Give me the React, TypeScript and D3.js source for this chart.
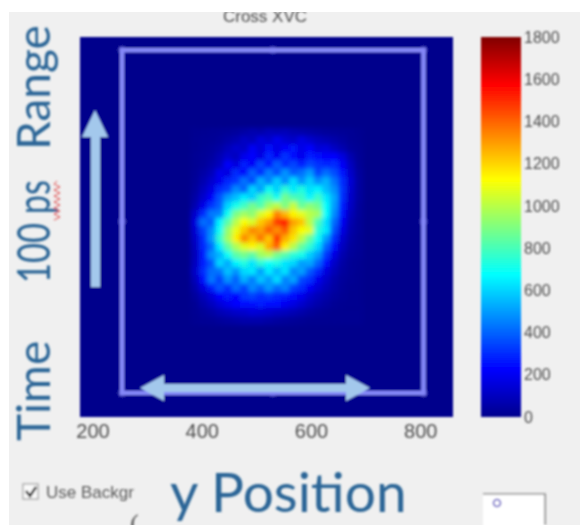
import React, { useEffect, useRef } from 'react';
import * as d3 from 'd3';

// tick labels
const xTicks = [200, 400, 600, 800];
const colorTicks = [0, 200, 400, 600, 800, 1000, 1200, 1400, 1600, 1800];

// axis extents of the image, in detector units
const xDomain = [177, 860];
const yDomain = [170, 865];
const colorDomain = [0, 1800];

// region of interest drawn over the image
const roiX = [254, 806];
const roiY = [194, 821];

// blob counts, bins of 15 units starting at (380, 336)
const binSize = 15;
const binX0 = 380;
const binY0 = 336;
const counts = [
  [10, 12, 15, 20, 25, 35, 50, 70, 60, 90, 80, 90, 70, 60, 50, 40, 30, 25, 20, 15, 10],
  [12, 15, 20, 30, 50, 70, 110, 90, 160, 130, 190, 140, 120, 170, 130, 100, 80, 60, 40, 20, 12],
  [12, 20, 30, 50, 90, 130, 110, 210, 150, 240, 170, 220, 260, 180, 230, 150, 160, 110, 70, 30, 15],
  [15, 25, 40, 80, 130, 100, 190, 230, 170, 290, 200, 310, 240, 190, 280, 250, 220, 230, 160, 70, 20],
  [15, 30, 60, 100, 220, 160, 280, 210, 350, 250, 390, 290, 350, 270, 350, 310, 290, 300, 210, 100, 25],
  [20, 50, 90, 190, 160, 300, 220, 400, 290, 450, 350, 490, 380, 420, 500, 340, 420, 360, 260, 120, 35],
  [25, 70, 130, 190, 290, 320, 430, 340, 540, 440, 590, 460, 620, 480, 590, 470, 540, 430, 300, 140, 40],
  [35, 100, 170, 300, 330, 470, 390, 610, 500, 700, 590, 750, 640, 730, 620, 660, 560, 480, 310, 130, 40],
  [50, 130, 220, 370, 500, 560, 650, 590, 760, 810, 700, 880, 800, 780, 660, 780, 640, 520, 300, 120, 40],
  [70, 180, 320, 390, 600, 710, 780, 880, 810, 950, 1010, 890, 1030, 850, 920, 870, 680, 500, 280, 110, 30],
  [130, 300, 440, 450, 700, 890, 960, 920, 1060, 1140, 1350, 1250, 1140, 1080, 1000, 960, 680, 470, 240, 90, 30],
  [160, 420, 380, 660, 830, 1000, 1120, 1060, 1220, 1300, 1480, 1560, 1290, 1230, 1000, 800, 620, 410, 200, 70, 25],
  [140, 340, 470, 690, 940, 1090, 1220, 1340, 1290, 1420, 1320, 1420, 1220, 1120, 1080, 740, 640, 360, 170, 60, 25],
  [120, 300, 490, 760, 960, 1150, 1340, 1230, 1380, 1220, 1500, 1270, 1170, 1010, 850, 690, 500, 300, 130, 50, 20],
  [100, 290, 410, 650, 840, 980, 1070, 1140, 1060, 1270, 1410, 1150, 1000, 850, 750, 610, 400, 240, 100, 40, 20],
  [90, 270, 480, 540, 690, 830, 880, 830, 950, 990, 880, 820, 740, 710, 590, 500, 320, 170, 70, 30, 15],
  [100, 280, 370, 610, 520, 660, 730, 630, 750, 680, 720, 630, 610, 500, 520, 400, 240, 120, 50, 20, 12],
  [120, 300, 420, 430, 570, 480, 610, 640, 500, 650, 540, 630, 460, 510, 380, 290, 160, 90, 40, 20, 10],
  [90, 250, 440, 330, 490, 390, 540, 440, 580, 490, 620, 450, 520, 350, 310, 190, 120, 60, 30, 15, 10],
  [60, 160, 280, 380, 300, 420, 340, 470, 400, 500, 410, 460, 340, 300, 210, 140, 90, 50, 25, 12, 10],
  [35, 90, 150, 230, 270, 230, 320, 340, 300, 320, 290, 280, 240, 190, 130, 90, 60, 35, 20, 10, 10],
  [15, 60, 100, 150, 190, 230, 250, 240, 270, 250, 240, 200, 170, 130, 90, 60, 40, 20, 12, 10, 10],
  [12, 30, 50, 80, 100, 120, 130, 150, 140, 130, 110, 100, 80, 60, 40, 25, 15, 10, 10, 10, 10],
  [10, 15, 20, 30, 40, 50, 60, 60, 60, 50, 40, 30, 25, 15, 10, 10, 10, 10, 10, 10, 10],
];

// matlab jet
const jetStops = [0, 225, 675, 1125, 1575, 1800];
const jetColors = ['#00008c', '#0000ff', '#00ffff', '#ffff00', '#ff0000', '#800000'];

const plot = { left: 80, right: 453, top: 37, bottom: 417 };
const bar = { left: 481, right: 521 };

const x = d3.scaleLinear().domain(xDomain).range([plot.left, plot.right]);
const y = d3.scaleLinear().domain(yDomain).range([plot.top, plot.bottom]);
const c = d3.scaleLinear().domain(colorDomain).range([plot.bottom, plot.top]);
const jet = d3.scaleLinear<string>().domain(jetStops).range(jetColors);

const blueText = '#2a6596';
const calibri = 'Lato, "Open Sans", sans-serif';
const guiFont = '"Liberation Sans", Arial, sans-serif';

const App = () => {
  const xAxisRef = useRef<SVGGElement>(null);
  const cAxisRef = useRef<SVGGElement>(null);

  useEffect(() => {
    const style = (g: any, size: number) => {
      g.select('.domain').remove();
      g.selectAll('text').attr('fill', '#4d4d4d').attr('font-size', size).attr('font-family', guiFont);
    };
    d3.select(xAxisRef.current as SVGGElement)
      .call(d3.axisBottom(x).tickValues(xTicks).tickSize(0).tickPadding(7).tickFormat(d3.format('d')) as any)
      .call((g) => style(g, 20));
    d3.select(cAxisRef.current as SVGGElement)
      .call(d3.axisRight(c).tickValues(colorTicks).tickSize(0).tickPadding(3).tickFormat(d3.format('d')) as any)
      .call((g) => style(g, 16));
  }, []);

  const roiMidX = (roiX[0] + roiX[1]) / 2;
  const roiMidY = (roiY[0] + roiY[1]) / 2;
  const handles: [number, number][] = [
    [roiX[0], roiY[0]], [roiMidX, roiY[0]], [roiX[1], roiY[0]],
    [roiX[0], roiMidY], [roiX[1], roiMidY],
    [roiX[0], roiY[1]], [roiMidX, roiY[1]], [roiX[1], roiY[1]],
  ];

  return (
    <svg width={580} height={525} style={{ position: 'absolute', left: 0, top: 0, background: '#fff' }}>
      <defs>
        <filter id="soft" x="-5%" y="-5%" width="110%" height="110%">
          <feGaussianBlur stdDeviation="0.8" />
        </filter>
        <filter id="heat" x="-5%" y="-5%" width="110%" height="110%">
          <feGaussianBlur stdDeviation="2.3" />
        </filter>
        <clipPath id="plotClip">
          <rect x={plot.left} y={plot.top} width={plot.right - plot.left} height={plot.bottom - plot.top} />
        </clipPath>
        <clipPath id="pageClip">
          <rect x={9} y={12} width={571} height={513} />
        </clipPath>
        <clipPath id="checkClip">
          <rect x={40} y={480} width={97} height={30} />
        </clipPath>
        <linearGradient id="jetBar" x1="0" y1="1" x2="0" y2="0">
          {jetStops.map((s, i) => (
            <stop key={s} offset={s / 1800} stopColor={jetColors[i]} />
          ))}
        </linearGradient>
      </defs>

      <g clipPath="url(#pageClip)">
        <rect x={9} y={12} width={571} height={513} fill="#f0f0f0" />

        <g filter="url(#soft)">
          <text x={265} y={22} textAnchor="middle" fontSize={17} fill="#4d4d4d" fontFamily={guiFont}>
            Cross XVC
          </text>

          <rect x={plot.left} y={plot.top} width={plot.right - plot.left} height={plot.bottom - plot.top} fill={jet(0)} />
          <g clipPath="url(#plotClip)">
            <g filter="url(#heat)">
              {counts.map((row, j) =>
                row.map((v, i) => (
                  <rect
                    key={`${i}-${j}`}
                    x={x(binX0 + i * binSize)}
                    y={y(binY0 + j * binSize)}
                    width={x(binSize) - x(0) + 0.5}
                    height={y(binSize) - y(0) + 0.5}
                    fill={jet(v)}
                  />
                )),
              )}
            </g>
            <rect
              x={x(roiX[0])}
              y={y(roiY[0])}
              width={x(roiX[1]) - x(roiX[0])}
              height={y(roiY[1]) - y(roiY[0])}
              fill="none"
              stroke="#8488f8"
              strokeWidth={4.5}
            />
            {handles.map(([hx, hy], i) => (
              <circle key={i} cx={x(hx)} cy={y(hy)} r={4} fill="#8488f8" opacity={0.4} />
            ))}
            {/* vertical arrow */}
            <path d="M95 110 L108 137 L100 137 L100 287 L91 287 L91 137 L82 137 Z" fill="#a3c8ec" />
            {/* horizontal double arrow */}
            <path d="M140 388 L164 375 L164 384 L346 384 L346 375 L370 388 L346 401 L346 392 L164 392 L164 401 Z" fill="#a3c8ec" />
          </g>
          <g ref={xAxisRef} transform={`translate(0,${plot.bottom})`} />

          <rect x={bar.left} y={plot.top} width={bar.right - bar.left} height={plot.bottom - plot.top} fill="url(#jetBar)" />
          <g ref={cAxisRef} transform={`translate(${bar.right},0)`} />

          {/* slide text laid over the figure */}
          <g fontFamily={calibri} fill={blueText} fontSize={46}>
            <text transform="translate(50,150) rotate(-90)">Range</text>
            <text transform="translate(50,283) rotate(-90)" textLength={103} lengthAdjust="spacingAndGlyphs">100 ps</text>
            <text transform="translate(50,441) rotate(-90)">Time</text>
            <text x={170} y={512} fontSize={55}>y Position</text>
          </g>
          <path d="M57 181 l-3 3 l6 3 l-6 3 l6 3 l-6 3 l6 3 l-6 3 l6 3 l-6 3 l6 3 l-6 3 l6 3 l-6 3" fill="none" stroke="#e04a4a" strokeWidth={1} />

          {/* bits of the surrounding gui */}
          <rect x={23} y={484} width={15} height={15} fill="#fafafa" stroke="#888" />
          <path d="M26 491 l4 5 l6 -9" fill="none" stroke="#222" strokeWidth={2.4} />
          <g clipPath="url(#checkClip)">
            <text x={46} y={498} fontSize={17} fill="#5a5a5a" fontFamily={guiFont}>
              Use Backgr
            </text>
          </g>
          <text x={130} y={532} fontSize={26} fill="#555">(</text>
          <rect x={483} y={494} width={62} height={40} fill="#fff" />
          <path d="M483 494 H545 V525" fill="none" stroke="#555" strokeWidth={1.2} />
          <circle cx={497} cy={503} r={3.5} fill="none" stroke="#5a4fc0" strokeWidth={1.6} />
        </g>
      </g>
    </svg>
  );
};

export default App;
